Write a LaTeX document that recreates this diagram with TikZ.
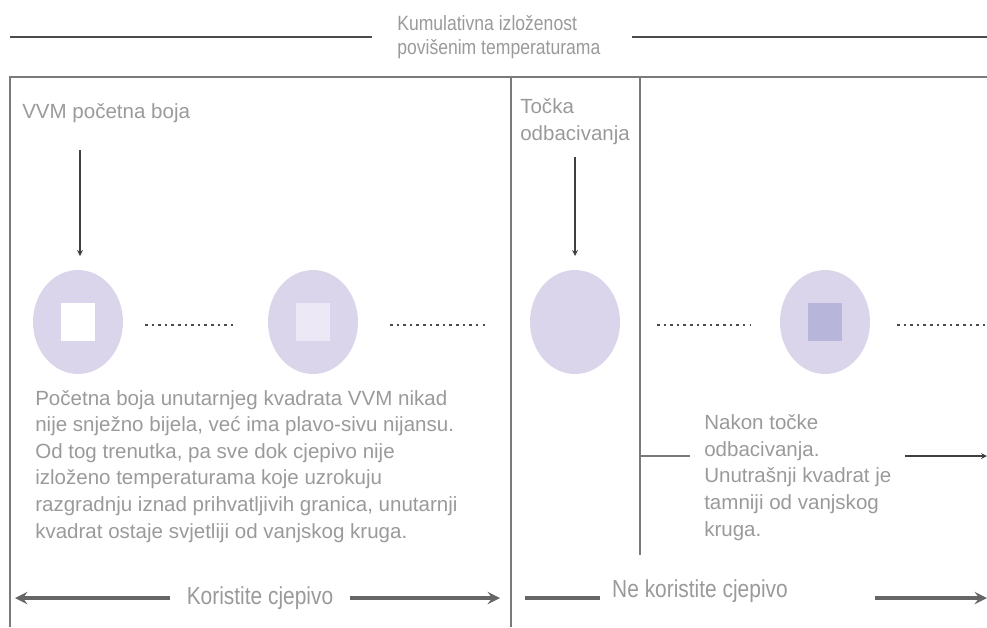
\documentclass[tikz,border=0pt]{standalone}
\usepackage{fontspec}
\setmainfont{Liberation Sans}
\newfontfamily\narrowfont[FakeStretch=0.85]{Liberation Sans}
\usetikzlibrary{shapes.geometric}
\definecolor{vvmring}{HTML}{DAD5EA}
\definecolor{vvmpale}{HTML}{EDE8F5}
\definecolor{vvmdark}{HTML}{B8B5DA}
\definecolor{labelgrey}{HTML}{9A9A9A}
\definecolor{framegrey}{HTML}{7A7A7A}

\begin{document}
\begin{tikzpicture}[x=0.025cm, y=-0.025cm,
    vvm/.style={ellipse, fill=vvmring, minimum width=90*0.025cm, minimum height=104*0.025cm, inner sep=0pt},
    inner/.style={rectangle, minimum width=34*0.025cm, minimum height=38*0.025cm, inner sep=0pt},
    dots/.style={line width=2pt, black!70, dash pattern=on 1.8pt off 2.9pt},
    frame/.style={framegrey, line width=1.2pt},
    span/.style={black!60, line width=2.8pt},
    pointer/.style={->, >=stealth, black!75, line width=0.9pt},
    note/.style={labelgrey, font=\fontsize{14.6}{18.9}\selectfont, align=left, inner sep=0pt},
    caption/.style={labelgrey, font=\narrowfont\fontsize{14.7}{17}\selectfont, align=left, inner sep=0pt}]
    \useasboundingbox (0,0) rectangle (987,627);

    \node (title) at (397,37) [caption, anchor=west] {Kumulativna izloženost\\povišenim temperaturama};
    \coordinate (tl) at (10,37);
    \coordinate (tr) at (987,37);
    \draw [black!70, line width=1.4pt] (tl) -- (title.west -| 372,0);
    \draw [black!70, line width=1.4pt] (title.east -| 632,0) -- (tr);

    \coordinate (f1) at (10,77);
    \coordinate (f2) at (987,77);
    \coordinate (f3) at (10,627);
    \coordinate (m1) at (511,77);
    \coordinate (m2) at (511,627);
    \coordinate (k1) at (640,77);
    \coordinate (k2) at (640,555);
    \coordinate (k3) at (640,456);
    \coordinate (k4) at (690,456);
    \draw [frame] (f3) -- (f1) -- (f2);
    \draw [frame] (m1) -- (m2);
    \draw [frame] (k1) -- (k2);
    \draw [frame] (k3) -- (k4);

    \node (start) at (22,118) [note, anchor=base west] {VVM početna boja};
    \node (discard) at (520,140) [note, anchor=base west] {Točka\\odbacivanja};

    \node (c1) at (78,322) [vvm] {};
    \node (c2) at (313,322) [vvm] {};
    \node (c3) at (575,322) [vvm] {};
    \node (c4) at (825,322) [vvm] {};
    \node (q1) at (c1) [inner, fill=white] {};
    \node (q2) at (c2) [inner, fill=vvmpale] {};
    \node (q4) at (c4) [inner, fill=vvmdark] {};

    \coordinate (a1) at (80,150);
    \coordinate (a2) at (80,256);
    \coordinate (b1) at (575,157);
    \coordinate (b2) at (575,256);
    \draw [pointer] (a1) -- (a2);
    \draw [pointer] (b1) -- (b2);

    \draw [dots] (145,325) -- (237,325);
    \draw [dots] (390,325) -- (485,325);
    \draw [dots] (657,325) -- (750,325);
    \draw [dots] (897,325) -- (987,325);

    \node (before) at (35,538) [note, anchor=base west] {Početna boja unutarnjeg kvadrata VVM nikad\\nije snježno bijela, već ima plavo-sivu nijansu.\\Od tog trenutka, pa sve dok cjepivo nije\\izloženo temperaturama koje uzrokuju\\razgradnju iznad prihvatljivih granica, unutarnji\\kvadrat ostaje svjetliji od vanjskog kruga.};
    \node (after) at (704,536) [note, anchor=base west] {Nakon točke\\odbacivanja.\\Unutrašnji kvadrat je\\tamniji od vanjskog\\kruga.};

    \coordinate (e1) at (905,456);
    \coordinate (e2) at (987,456);
    \draw [pointer] (e1) -- (e2);

    \node (use) at (260,598) [caption, font=\narrowfont\fontsize{17.5}{17}\selectfont] {Koristite cjepivo};
    \node (nouse) at (700,591) [caption, font=\narrowfont\fontsize{17.5}{17}\selectfont] {Ne koristite cjepivo};
    \coordinate (u1) at (15,598);
    \coordinate (u2) at (170,598);
    \coordinate (u3) at (350,598);
    \coordinate (u4) at (500,598);
    \coordinate (n1) at (525,598);
    \coordinate (n2) at (600,598);
    \coordinate (n3) at (875,598);
    \coordinate (n4) at (987,598);
    \draw [span, ->, >=stealth] (u2) -- (u1);
    \draw [span, ->, >=stealth] (u3) -- (u4);
    \draw [span] (n1) -- (n2);
    \draw [span, ->, >=stealth] (n3) -- (n4);
\end{tikzpicture}
\end{document}
